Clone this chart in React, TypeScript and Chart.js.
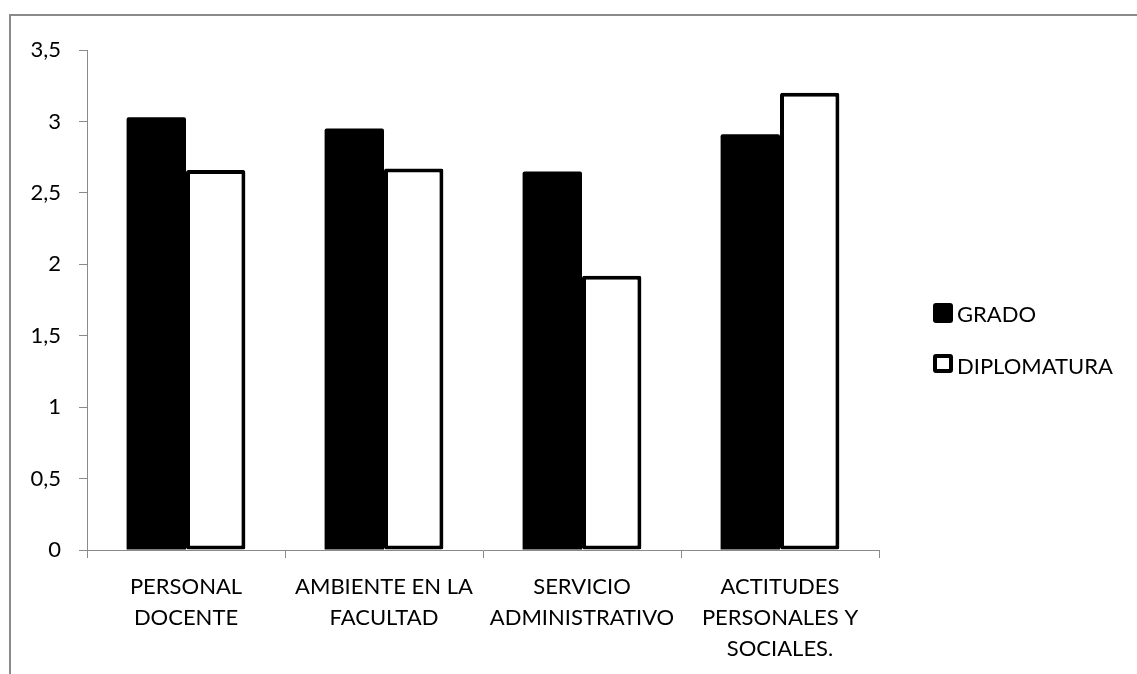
import React, { useEffect, useRef } from "react";
import { Chart, registerables } from "chart.js";

Chart.register(...registerables);

const categories: string[][] = [
  ["PERSONAL", "DOCENTE"],
  ["AMBIENTE EN LA", "FACULTAD"],
  ["SERVICIO", "ADMINISTRATIVO"],
  ["ACTITUDES", "PERSONALES Y", "SOCIALES."],
];
const seriesNames = ["GRADO", "DIPLOMATURA"];
const grado = [3.03, 2.95, 2.65, 2.91];
const diplomatura = [2.66, 2.67, 1.92, 3.2];
const yMin = 0;
const yMax = 3.5;
const yStep = 0.5;

const FONT = "Lato, 'Open Sans', sans-serif";
const AXIS_GRAY = "#8a8a8a";
const TEXT = "#000000";

export default function App() {
  const ref = useRef<HTMLCanvasElement | null>(null);

  useEffect(() => {
    if (!ref.current) return;
    const chart = new Chart(ref.current, {
      type: "bar",
      data: {
        labels: categories,
        datasets: [
          {
            label: seriesNames[0],
            data: grado,
            backgroundColor: "#000000",
            borderWidth: 0,
            borderRadius: 2,
            categoryPercentage: 0.6,
            barPercentage: 1,
          },
          {
            label: seriesNames[1],
            data: diplomatura,
            backgroundColor: "#ffffff",
            borderColor: "#000000",
            borderWidth: 4,
            borderRadius: 2,
            borderSkipped: false,
            categoryPercentage: 0.6,
            barPercentage: 1,
          },
        ],
      },
      options: {
        responsive: false,
        animation: false,
        devicePixelRatio: 1,
        layout: { padding: { top: 50, right: 258, left: 0, bottom: 0 } },
        plugins: {
          legend: { display: false },
          tooltip: { enabled: false },
        },
        scales: {
          x: {
            grid: {
              display: true,
              drawOnChartArea: false,
              drawTicks: true,
              tickLength: 8,
              color: AXIS_GRAY,
              offset: true,
            },
            border: { display: true, color: AXIS_GRAY, width: 1 },
            ticks: {
              color: TEXT,
              font: { family: FONT, size: 22, lineHeight: 1.42 },
              padding: 13,
              maxRotation: 0,
              autoSkip: false,
            },
            afterFit: (s: any) => {
              s.height = 124;
            },
          },
          y: {
            min: yMin,
            max: yMax,
            grid: {
              display: true,
              drawOnChartArea: false,
              drawTicks: true,
              tickLength: 8,
              color: AXIS_GRAY,
            },
            border: { display: true, color: AXIS_GRAY, width: 1 },
            ticks: {
              stepSize: yStep,
              color: TEXT,
              font: { family: FONT, size: 22 },
              padding: 18,
              callback: (v: any) => String(v).replace(".", ","),
            },
            afterFit: (s: any) => {
              s.width = 87;
            },
          },
        },
      },
    });
    return () => chart.destroy();
  }, []);

  const legendText: React.CSSProperties = {
    position: "absolute",
    left: 957,
    fontFamily: FONT,
    fontSize: 22,
    lineHeight: "22px",
    color: TEXT,
    whiteSpace: "nowrap",
  };

  return (
    <div>
      <div
        style={{
          position: "absolute",
          left: 9,
          top: 14,
          width: 1128,
          height: 660,
          boxSizing: "border-box",
          borderTop: "2px solid #8a8a8a",
          borderLeft: "2px solid #8a8a8a",
        }}
      />
      <canvas
        ref={ref}
        width={1137}
        height={674}
        style={{ position: "absolute", left: 0, top: 0, width: 1137, height: 674 }}
      />
      <div
        style={{
          position: "absolute",
          left: 933,
          top: 303,
          width: 20,
          height: 20,
          background: "#000",
          borderRadius: 3,
          boxSizing: "border-box",
        }}
      />
      <div style={{ ...legendText, top: 303 }}>{seriesNames[0]}</div>
      <div
        style={{
          position: "absolute",
          left: 933,
          top: 354,
          width: 20,
          height: 19,
          background: "#fff",
          border: "4px solid #000",
          borderRadius: 3,
          boxSizing: "border-box",
        }}
      />
      <div style={{ ...legendText, top: 355 }}>{seriesNames[1]}</div>
    </div>
  );
}
